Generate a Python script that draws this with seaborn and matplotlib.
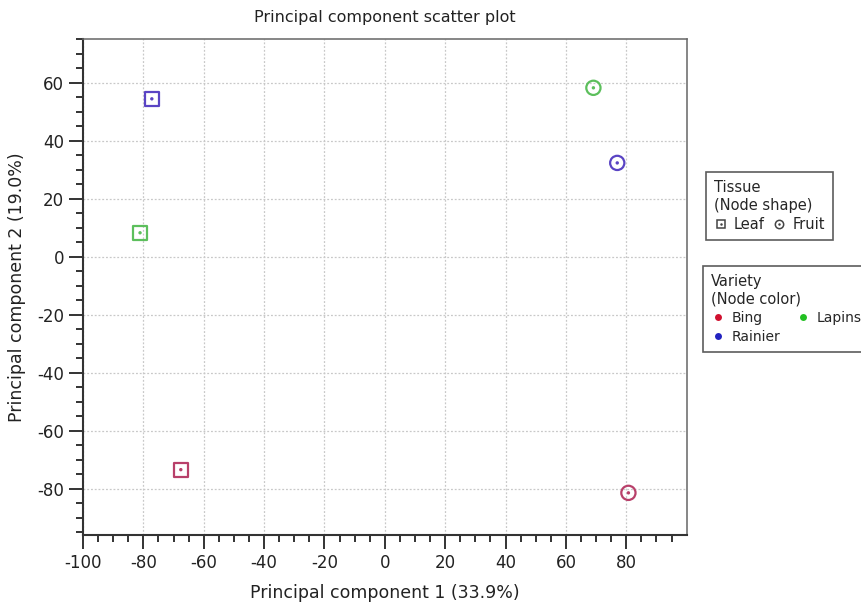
import pandas as pd
import matplotlib
matplotlib.use("Agg")
import matplotlib.pyplot as plt
import seaborn as sns
from matplotlib.lines import Line2D
from matplotlib.legend_handler import HandlerTuple

# data
samples = ["Rainier leaf", "Lapins leaf", "Bing leaf", "Lapins fruit", "Rainier fruit", "Bing fruit"]
variety = ["Rainier", "Lapins", "Bing", "Lapins", "Rainier", "Bing"]
tissue = ["Leaf", "Leaf", "Leaf", "Fruit", "Fruit", "Fruit"]
pc1 = [-77.2, -81.1, -67.6, 69.1, 77.0, 80.7]
pc2 = [54.5, 8.3, -73.4, 58.3, 32.4, -81.4]
xticks = [-100, -80, -60, -40, -20, 0, 20, 40, 60, 80]
yticks = [-80, -60, -40, -20, 0, 20, 40, 60]

df = pd.DataFrame({"sample": samples, "variety": variety, "tissue": tissue,
                   "pc1": pc1, "pc2": pc2})

point_colors = {"Bing": "#b8406a", "Lapins": "#5cbf5c", "Rainier": "#5a44c4"}
legend_colors = {"Bing": "#d0102f", "Lapins": "#22c022", "Rainier": "#2222c0"}
markers = {"Leaf": "s", "Fruit": "o"}

sns.set_style("white")
plt.rcParams['font.family'] = ['DejaVu Sans']
plt.rcParams['axes.unicode_minus'] = False

fig = plt.figure(figsize=(8.62, 6.02), dpi=100)
ax = fig.add_axes([0.0963, 0.111, 0.701, 0.825])

sns.scatterplot(data=df, x="pc1", y="pc2", hue="variety", style="tissue",
                palette=point_colors, markers=markers, s=105, linewidth=1.6,
                legend=False, ax=ax, zorder=3)
coll = ax.collections[0]
coll.set_edgecolors(coll.get_facecolors())
coll.set_facecolors("none")

# small centre dot in each marker
sns.scatterplot(data=df, x="pc1", y="pc2", hue="variety", palette=point_colors,
                marker="o", s=6, linewidth=0, legend=False, ax=ax, zorder=4)

ax.set_xlim(-100, 100.2)
ax.set_ylim(-96, 75.3)
ax.set_xticks(xticks)
ax.set_xticks(list(range(-95, 100, 5)), minor=True)
ax.set_yticks(yticks)
ax.set_yticks(list(range(-95, 76, 5)), minor=True)
ax.tick_params(which="major", direction="out", length=10, width=1.4, colors="#333333",
               labelsize=12, labelcolor="#222222", left=True, bottom=True)
ax.tick_params(which="minor", direction="out", length=5, width=1.4, colors="#333333",
               left=True, bottom=True)
ax.grid(True, which="major", color="#c8c8c8", linestyle=(0, (1.5, 1.5)), linewidth=0.9)
ax.set_axisbelow(True)
for side in ["left", "bottom"]:
    ax.spines[side].set_color("#333333")
    ax.spines[side].set_linewidth(1.5)
for side in ["top", "right"]:
    ax.spines[side].set_color("#666666")
    ax.spines[side].set_linewidth(1.1)

ax.set_xlabel("Principal component 1 (33.9%)", fontsize=12.5, color="#222222", labelpad=9)
ax.set_ylabel("Principal component 2 (19.0%)", fontsize=12.5, color="#222222", labelpad=8)
ax.set_title("Principal component scatter plot", fontsize=11.5, color="#222222", pad=12)

# legend for node shape
def shape_handle(m):
    outer = Line2D([], [], marker=m, ls="none", mfc="none", mec="#444444", ms=6, mew=1.1)
    inner = Line2D([], [], marker="o", ls="none", mfc="#444444", mec="none", ms=1.8)
    return (outer, inner)

leg1 = fig.legend([shape_handle("s"), shape_handle("o")], ["Leaf", "Fruit"],
                  handler_map={tuple: HandlerTuple(ndivide=1, pad=0)},
                  title="Tissue\n(Node shape)", ncol=2, loc="upper left",
                  bbox_to_anchor=(0.810, 0.726), fontsize=10.5, title_fontsize=10.5,
                  alignment="left", frameon=True, fancybox=False, edgecolor="#333333",
                  handlelength=1.0, handletextpad=0.4, columnspacing=0.5,
                  borderpad=0.55, labelspacing=0.3)
leg1.get_frame().set_linewidth(1.2)

var_order = ["Bing", "Rainier", "Lapins"]
h2 = [Line2D([], [], marker="o", ls="none", mfc=legend_colors[v], mec="none", ms=5)
      for v in var_order]
leg2 = fig.legend(h2, var_order, title="Variety\n(Node color)", ncol=2, loc="upper left",
                  bbox_to_anchor=(0.808, 0.569), fontsize=10, title_fontsize=10.5,
                  alignment="left", frameon=True, fancybox=False, edgecolor="#333333",
                  handlelength=1.0, handletextpad=0.5, columnspacing=1.1,
                  borderpad=0.55, labelspacing=0.35)
leg2.get_frame().set_linewidth(1.2)

fig.savefig("out.png", dpi=100)
